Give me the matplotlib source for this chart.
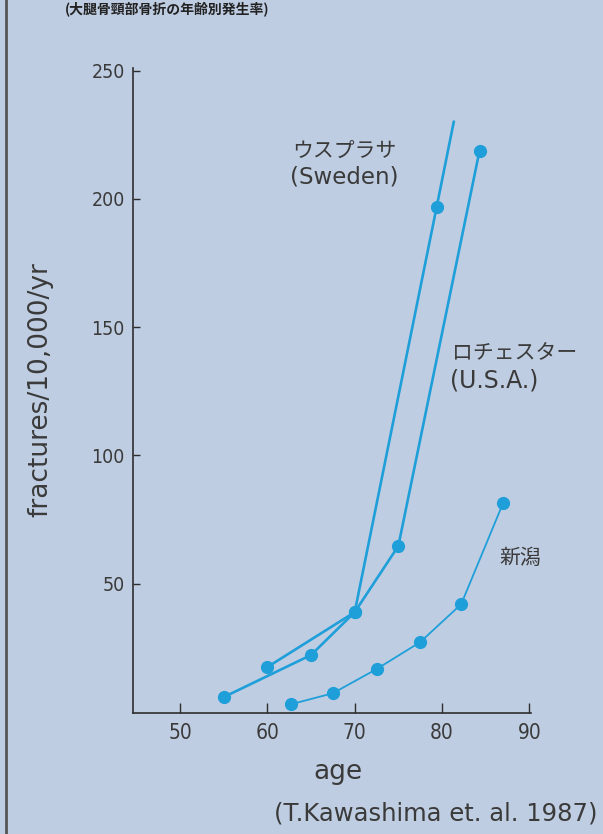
import matplotlib
matplotlib.use("Agg")
import matplotlib.pyplot as plt

plt.rcParams['font.family'] = ['DejaVu Sans', 'Noto Sans CJK JP']

# incidence of hip fracture by age (per 10,000 per year)
sweden_age = [55, 65, 70, 79.4, 81.35]
sweden_val = [5.8, 22.2, 38.9, 197, 230]
usa_age = [60, 70, 75, 84.3]
usa_val = [17.5, 38.9, 64.7, 218.7]
niigata_age = [62.7, 67.5, 72.5, 77.5, 82.2, 87.0]
niigata_val = [3.0, 7.3, 16.7, 27.2, 42.0, 81.4]

xticks = [50, 60, 70, 80, 90]
yticks = [50, 100, 150, 200, 250]

bg = '#bfcde2'
blue = '#1f9fd9'
ink = '#3a3a3a'
jp = ['Noto Sans CJK JP', 'DejaVu Sans']

fig = plt.figure(figsize=(6.03, 8.34), dpi=100, facecolor=bg)
ax = fig.add_axes([0.2206, 0.1451, 0.66, 0.7734])
ax.set_facecolor(bg)

ax.plot(sweden_age, sweden_val, color=blue, lw=1.9, marker='o', ms=8.5,
        markevery=[0, 1, 2, 3])
ax.plot(usa_age, usa_val, color=blue, lw=1.9, marker='o', ms=8.5)
ax.plot(niigata_age, niigata_val, color=blue, lw=1.3, marker='o', ms=8.5)

ax.set_xlim(44.6, 90.2)
ax.set_ylim(-0.4, 251)
ax.set_xticks(xticks)
ax.set_yticks(yticks)
for s in ['top', 'right']:
    ax.spines[s].set_visible(False)
for s in ['left', 'bottom']:
    ax.spines[s].set_color('#2e2e2e')
    ax.spines[s].set_linewidth(1.2)
ax.tick_params(axis='x', direction='in', length=7, width=1, color='#2e2e2e',
               labelsize=15, labelcolor=ink, pad=7)
ax.tick_params(axis='y', direction='in', length=5, width=1, color='#2e2e2e',
               labelsize=14, labelcolor=ink, pad=6)
for lab in ax.get_xticklabels() + ax.get_yticklabels():
    lab.set_fontstretch('condensed')

fig.text(292 / 603, 1 - 151 / 834, 'ウスプラサ', fontsize=15, color=ink,
         va='center', family=jp)
fig.text(290 / 603, 1 - 177 / 834, '(Sweden)', fontsize=16.5, color=ink, va='center')
fig.text(452 / 603, 1 - 353 / 834, 'ロチェスター', fontsize=15, color=ink,
         va='center', family=jp)
fig.text(450 / 603, 1 - 380 / 834, '(U.S.A.)', fontsize=17, color=ink, va='center')
fig.text(499 / 603, 1 - 558 / 834, '新潟', fontsize=15, color=ink,
         va='center', family=jp)

fig.text(40 / 603, 1 - 390 / 834, 'fractures/10,000/yr', rotation=90, fontsize=19,
         color=ink, ha='center', va='center')
fig.text(338 / 603, 1 - 772 / 834, 'age', fontsize=19, color=ink,
         ha='center', va='center')
fig.text(597 / 603, 1 - 813 / 834, '(T.Kawashima et. al. 1987)', fontsize=17.5,
         color=ink, ha='right', va='center')

# heading along the top edge
fig.text(65 / 603, 1 - 1 / 834, '(大腿骨頸部骨折の年齢別発生率)', fontsize=10,
         color='#222222', ha='left', va='top', fontweight='bold', family=jp)

# frame line on the left edge
fig.add_artist(plt.Line2D([6 / 603, 6 / 603], [0, 1], color='#555555', lw=2,
                          transform=fig.transFigure))

fig.savefig('out.png', dpi=100, facecolor=bg)
